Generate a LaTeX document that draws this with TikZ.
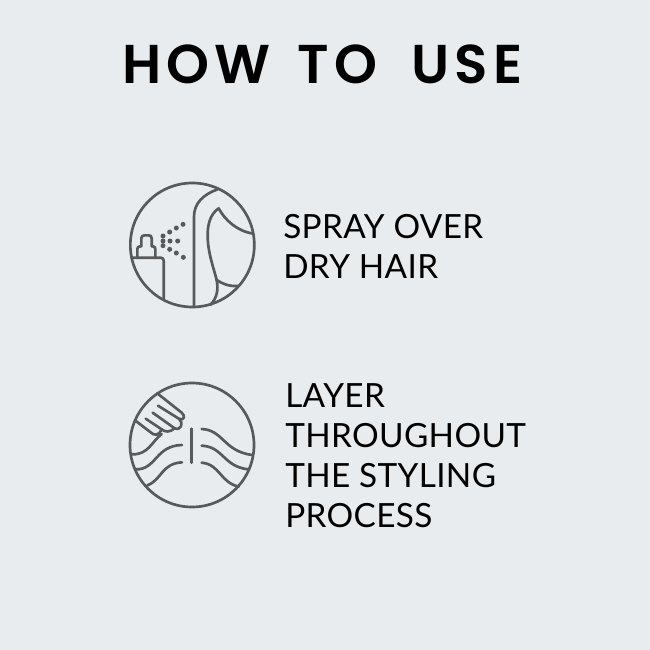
\documentclass[tikz,border=0pt]{standalone}
\usepackage{fontspec}
\newfontfamily\titlefont[LetterSpace=9.5]{Poppins SemiBold}
\newfontfamily\bodyfont[LetterSpace=1]{Lato}
\definecolor{bgc}{HTML}{E8ECEF}
\definecolor{ink}{HTML}{58595B}
\tikzset{
  px/.style={x=0.75pt,y=-0.75pt},
  iconline/.style={draw=ink,line width=2pt,line cap=round,line join=round},
  dotmark/.style={fill=ink},
  headtext/.style={anchor=base,inner sep=0,text=black,font=\titlefont\fontsize{41}{41}\selectfont},
  bodytext/.style={anchor=base west,inner sep=0,text=black,font=\bodyfont\fontsize{25}{25}\selectfont},
}
\begin{document}
\begin{tikzpicture}[px]
\useasboundingbox (0,0) rectangle (650,650);
\fill[bgc] (0,0) rectangle (650,650);
\node[headtext] (title) at (322.5,83.5) {HOW\hspace{6.5pt} TO\hspace{12pt} USE};
\node[bodytext] (s1a) at (283,238) {SPRAY OVER};
\node[bodytext] (s1b) at (283,278) {DRY HAIR};
\node[bodytext] (s2a) at (285,407) {LAYER};
\node[bodytext] (s2b) at (285,447) {THROUGHOUT};
\node[bodytext] (s2c) at (285,487) {THE STYLING};
\node[bodytext] (s2d) at (285,527) {PROCESS};
% icon 1
\begin{scope}[shift={(120,175)},x=0.25pt,y=-0.25pt]
\draw[iconline] (217,210) circle (186);
% bottle
\draw[iconline] (34,248) -- (122,248) .. controls (129,248) and (131,252) .. (131,258) -- (131,372);
\draw[iconline] (52,246) -- (52,222) .. controls (52,216) and (55,214) .. (62,214) -- (64,214) -- (64,190) .. controls (64,183) and (68,181) .. (74,181) -- (86,181) .. controls (92,181) and (95,184) .. (95,190) -- (95,214) -- (98,214) .. controls (103,214) and (106,217) .. (106,222) -- (106,246);
% hair back
\draw[iconline] (222,395) -- (222,125) .. controls (222,85) and (250,58) .. (293,43);
% face
\draw[iconline] (296,100) .. controls (315,135) and (350,168) .. (400,176);
\draw[iconline] (296,100) .. controls (270,118) and (262,150) .. (263,185) .. controls (264,235) and (280,275) .. (290,315) .. controls (305,325) and (325,335) .. (356,333);
\draw[iconline] (290,315) .. controls (296,345) and (290,370) .. (272,389);
% dots
\foreach \x/\y in {189/148,169/159,149/171,129/183,129/198,129/212,150/198,173/198,149/223,169/234,190/247}
  \fill[dotmark] (\x,\y) circle (7.5);
\end{scope}
% icon 2
\begin{scope}[shift={(120,375)},x=0.25pt,y=-0.25pt]
\draw[iconline] (216,210) circle (186);
% hand
\draw[iconline] (112,55) -- (185,113) .. controls (197,123) and (192,137) .. (178,132) ;
\draw[iconline] (114,92) -- (178,132) ;
\draw[iconline] (178,132) .. controls (192,145) and (182,168) .. (164,160) -- (98,113);
\draw[iconline] (164,160) .. controls (150,172) and (135,172) .. (125,163) -- (77,131);
\draw[iconline] (125,163) .. controls (118,182) and (103,183) .. (92,172) -- (45,136);
% centre
\draw[iconline] (215,161) -- (215,263);
% left waves
\draw[iconline] (35,238) .. controls (85,240) and (95,200) .. (125,177);
\draw[iconline] (46,283) .. controls (110,285) and (105,212) .. (186,210);
\draw[iconline] (82,331) .. controls (125,315) and (125,265) .. (186,262);
% right waves
\draw[iconline] (245,162) .. controls (310,165) and (310,228) .. (396,240);
\draw[iconline] (245,212) .. controls (310,215) and (310,275) .. (385,283);
\draw[iconline] (245,263) .. controls (300,268) and (300,322) .. (356,335);
\end{scope}
\end{tikzpicture}
\end{document}
